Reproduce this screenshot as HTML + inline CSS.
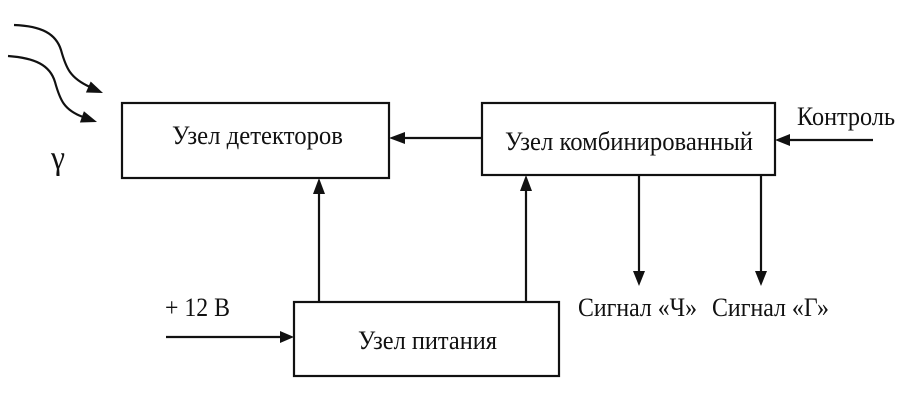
<!DOCTYPE html>
<html>
<head>
<meta charset="utf-8">
<style>
  html,body{margin:0;padding:0;background:#fff;}
  svg{display:block;}
  text{font-family:"Liberation Serif","DejaVu Serif",serif;fill:#111;}
</style>
</head>
<body>
<svg width="915" height="415" viewBox="0 0 915 415" xmlns="http://www.w3.org/2000/svg">
  <rect x="0" y="0" width="915" height="415" fill="#fff"/>
  <g stroke="#111" stroke-width="2.2" fill="none">
    <!-- boxes -->
    <rect x="122" y="103" width="267" height="75"/>
    <rect x="482" y="103" width="293" height="72"/>
    <rect x="294" y="302" width="265" height="74"/>
    <!-- gamma curves -->
    <path d="M14,25 C42,26 56,34 61,50 C66,68 70,78 90,87"/>
    <path d="M8,56 C35,58 50,65 55,82 C60,100 64,110 83,117"/>
    <!-- box2 -> box1 -->
    <line x1="482" y1="138" x2="400" y2="138"/>
    <!-- Контроль -> box2 -->
    <line x1="873" y1="140" x2="786" y2="140"/>
    <!-- box3 -> box1 -->
    <line x1="319" y1="302" x2="319" y2="190"/>
    <!-- box3 -> box2 -->
    <line x1="526" y1="302" x2="526" y2="187"/>
    <!-- box2 -> signals -->
    <line x1="639" y1="175" x2="639" y2="274"/>
    <line x1="761" y1="175" x2="761" y2="274"/>
    <!-- +12V -> box3 -->
    <line x1="166" y1="337" x2="283" y2="337"/>
  </g>
  <g fill="#111" stroke="none">
    <polygon points="103,93 90.7,81.5 85.9,92.5"/>
    <polygon points="97,122 83.9,111.3 79.9,122.5"/>
    <polygon points="389,138 405,132 405,144"/>
    <polygon points="775,140 790,134 790,146"/>
    <polygon points="319,178 313,194 325,194"/>
    <polygon points="526,175 520,191 532,191"/>
    <polygon points="639,286 633,271 645,271"/>
    <polygon points="761,286 755,271 767,271"/>
    <polygon points="294,337 280,331 280,343"/>
  </g>
  <g font-size="26">
    <text x="172" y="144" textLength="171" lengthAdjust="spacingAndGlyphs">Узел детекторов</text>
    <text x="505" y="150" textLength="248" lengthAdjust="spacingAndGlyphs">Узел комбинированный</text>
    <text x="358" y="349" textLength="139" lengthAdjust="spacingAndGlyphs">Узел питания</text>
    <text x="797" y="125" textLength="98" lengthAdjust="spacingAndGlyphs">Контроль</text>
    <text x="165" y="316" textLength="65" lengthAdjust="spacingAndGlyphs">+ 12 В</text>
    <text x="578" y="316" textLength="119" lengthAdjust="spacingAndGlyphs">Сигнал «Ч»</text>
    <text x="712" y="316" textLength="117" lengthAdjust="spacingAndGlyphs">Сигнал «Г»</text>
  </g>
  <text x="51" y="169" font-size="34" textLength="14" lengthAdjust="spacingAndGlyphs">γ</text>
</svg>
</body>
</html>
